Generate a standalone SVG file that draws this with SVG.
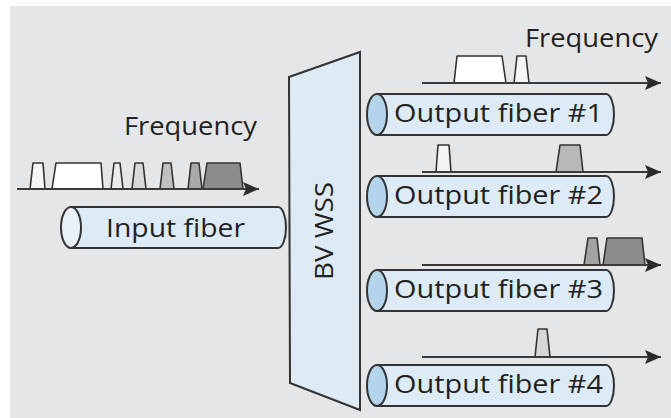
<svg xmlns="http://www.w3.org/2000/svg" width="671" height="418" viewBox="0 0 671 418">
<defs>
<marker id="ah" markerUnits="userSpaceOnUse" markerWidth="18" markerHeight="14" refX="16" refY="7" orient="auto">
<path d="M0,0 L16,7 L0,14 L3,7 Z" fill="#2b2b2b"/>
</marker>
</defs>
<style>
.axis{stroke:#3a3a3a;stroke-width:2;fill:none}
.p{stroke:#333;stroke-width:1.6;stroke-linejoin:round}
.tube{fill:#dcebf6;stroke:#333;stroke-width:2}
.end{fill:#b3d4ea;stroke:#333;stroke-width:2}
.lbl{font-family:"Open Sans","Noto Sans",sans-serif;font-size:26px;fill:#231f20}
</style>
<rect x="10" y="6" width="661" height="412" fill="#e5e6e8"/>

<g id="wss">
<polygon points="289,77 360,52 360,410 290,383" fill="#deebf5" stroke="#333" stroke-width="2"/>
<text class="lbl" transform="translate(333,231) rotate(-90)" text-anchor="middle" font-size="27" textLength="98" lengthAdjust="spacingAndGlyphs">BV WSS</text>
</g>

<g id="input-fiber">
<path class="tube" d="M71,207 L278,207 A8,20.5 0 0 1 278,248 L71,248 Z"/>
<ellipse cx="71" cy="227.5" rx="10" ry="20.5" fill="#eaf1f6" stroke="#333" stroke-width="2"/>
<text class="lbl" x="106" y="237" textLength="139" lengthAdjust="spacingAndGlyphs">Input fiber</text>
</g>

<g id="output-fiber-1">
<path class="tube" d="M377,94 L606,94 A8,20.5 0 0 1 606,135 L377,135 Z"/>
<ellipse class="end" cx="377" cy="114.5" rx="10" ry="20.5"/>
<text class="lbl" x="394" y="122" textLength="209" lengthAdjust="spacingAndGlyphs">Output fiber #1</text>
</g>
<g id="output-fiber-2">
<path class="tube" d="M377,176 L606,176 A8,20.5 0 0 1 606,217 L377,217 Z"/>
<ellipse class="end" cx="377" cy="196.5" rx="10" ry="20.5"/>
<text class="lbl" x="394" y="204" textLength="209" lengthAdjust="spacingAndGlyphs">Output fiber #2</text>
</g>
<g id="output-fiber-3">
<path class="tube" d="M377,270 L606,270 A8,20.5 0 0 1 606,311 L377,311 Z"/>
<ellipse class="end" cx="377" cy="290.5" rx="10" ry="20.5"/>
<text class="lbl" x="394" y="298" textLength="209" lengthAdjust="spacingAndGlyphs">Output fiber #3</text>
</g>
<g id="output-fiber-4">
<path class="tube" d="M377,365 L606,365 A8,20.5 0 0 1 606,406 L377,406 Z"/>
<ellipse class="end" cx="377" cy="385.5" rx="10" ry="20.5"/>
<text class="lbl" x="394" y="393" textLength="209" lengthAdjust="spacingAndGlyphs">Output fiber #4</text>
</g>

<g id="input-spectrum">
<text class="lbl" x="124" y="135" textLength="133" lengthAdjust="spacingAndGlyphs">Frequency</text>
<polygon class="p" points="30,189 33,163 43,163 45,189" fill="#f6f6f6"/>
<polygon class="p" points="52,189 56,163 101,163 103,189" fill="#ffffff"/>
<polygon class="p" points="111,189 114,163 120,163 123,189" fill="#ececec"/>
<polygon class="p" points="132,189 135,163 143,163 146,189" fill="#d8d8d8"/>
<polygon class="p" points="160,189 163,163 171,163 174,189" fill="#c0c0c0"/>
<polygon class="p" points="188,189 191,163 199,163 202,189" fill="#a9a9a9"/>
<polygon class="p" points="203,189 207,163 240,163 243,189" fill="#8c8c8c"/>
</g>

<g id="spectrum-1">
<text class="lbl" x="525" y="47" textLength="133" lengthAdjust="spacingAndGlyphs">Frequency</text>
<polygon class="p" points="454,83 457,56 502,56 506,83" fill="#ffffff"/>
<polygon class="p" points="514,83 517,56 526,56 529,83" fill="#f6f6f6"/>
</g>
<g id="spectrum-2">
<polygon class="p" points="436,172 438,145 449,145 451,172" fill="#f4f4f4"/>
<polygon class="p" points="556,172 560,145 580,145 583,172" fill="#b8b8b8"/>
</g>
<g id="spectrum-3">
<polygon class="p" points="584,265 588,238 597,238 600,265" fill="#a3a3a3"/>
<polygon class="p" points="603,265 607,238 642,238 645,265" fill="#8c8c8c"/>
</g>
<g id="spectrum-4">
<polygon class="p" points="535,357 538,329 547,329 550,357" fill="#d6d6d6"/>
</g>

<g id="connectors">
<line class="axis" x1="17" y1="189" x2="259" y2="189" marker-end="url(#ah)"/>
<line class="axis" x1="422" y1="83" x2="661" y2="83" marker-end="url(#ah)"/>
<line class="axis" x1="422" y1="172" x2="661" y2="172" marker-end="url(#ah)"/>
<line class="axis" x1="422" y1="265" x2="661" y2="265" marker-end="url(#ah)"/>
<line class="axis" x1="422" y1="357" x2="661" y2="357" marker-end="url(#ah)"/>
</g>
</svg>
